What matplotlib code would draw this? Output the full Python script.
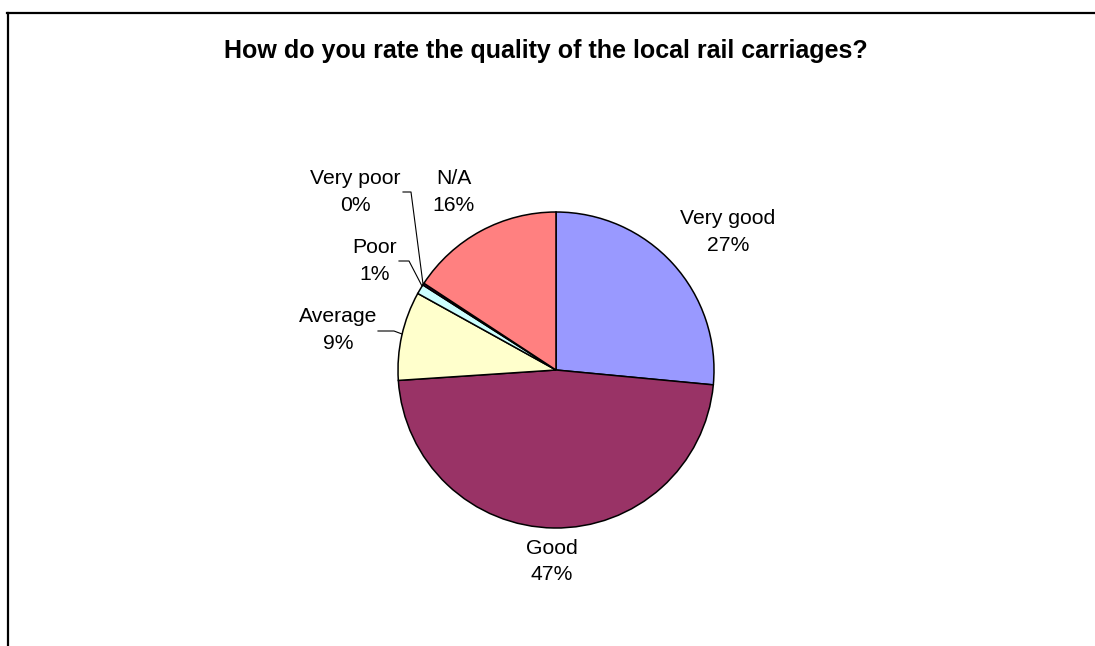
import matplotlib
matplotlib.use("Agg")
import matplotlib.pyplot as plt
from matplotlib.lines import Line2D

plt.rcParams['font.family'] = ['Liberation Sans', 'DejaVu Sans']

title = "How do you rate the quality of the local rail carriages?"
categories = ["Very good", "Good", "Average", "Poor", "Very poor", "N/A"]
shares = [26.5, 47.45, 9.1, 1.0, 0.2, 15.75]
pct_labels = ["27%", "47%", "9%", "1%", "0%", "16%"]
colors = ["#9999FF", "#993366", "#FFFFCC", "#CCFFFF", "#660066", "#FF8080"]

W, H = 1095, 646
CX, CY, R = 556, 370, 158


def px(x, y):
    # pixel position -> data coords (pie radius 1 == R pixels)
    return (x - CX) / R, (CY - y) / R


fig = plt.figure(figsize=(W / 100, H / 100), dpi=100)
ax = fig.add_axes([0, 0, 1, 1])

ax.pie(shares, colors=colors, startangle=90, counterclock=False,
       radius=1, center=(0, 0), frame=True,
       wedgeprops=dict(edgecolor='black', linewidth=1.1))
ax.set_xlim(-CX / R, (W - CX) / R)
ax.set_ylim(-(H - CY) / R, CY / R)
ax.set_aspect('auto')
ax.axis('off')

# label positions in pixels (name line, percent line share x)
label_pos = {
    "Very good": (728, 218, 245),
    "Good": (552, 548, 575),
    "Average": (338, 316, 343),
    "Poor": (375, 247, 274),
    "Very poor": (355, 178, 205),
    "N/A": (454, 178, 205),
}
for name, pct in zip(categories, pct_labels):
    x, y1, y2 = label_pos[name]
    ax.text(*px(x, y1), name, ha='center', va='center', fontsize=15.2)
    ax.text(*px(x, y2), pct, ha='center', va='center', fontsize=15.2)

# leader lines
leaders = [
    [(403, 192), (411, 192), (423, 284)],
    [(399, 261), (409, 261), (422, 286)],
    [(378, 331), (394, 331), (402, 334)],
]
for pts in leaders:
    xs, ys = zip(*[px(x, y) for x, y in pts])
    ax.plot(xs, ys, color='black', linewidth=0.8)

fig.text(546 / W, 1 - 51 / H, title, ha='center', va='center',
         fontsize=18, fontweight='bold')

# chart area frame (left and top edges)
fig.add_artist(Line2D([7.5 / W, 7.5 / W], [0, 1 - 12.5 / H],
                      transform=fig.transFigure, color='black', linewidth=1.6))
fig.add_artist(Line2D([6.7 / W, 1], [1 - 12.5 / H, 1 - 12.5 / H],
                      transform=fig.transFigure, color='black', linewidth=1.6))

fig.savefig("out.png", dpi=100)
